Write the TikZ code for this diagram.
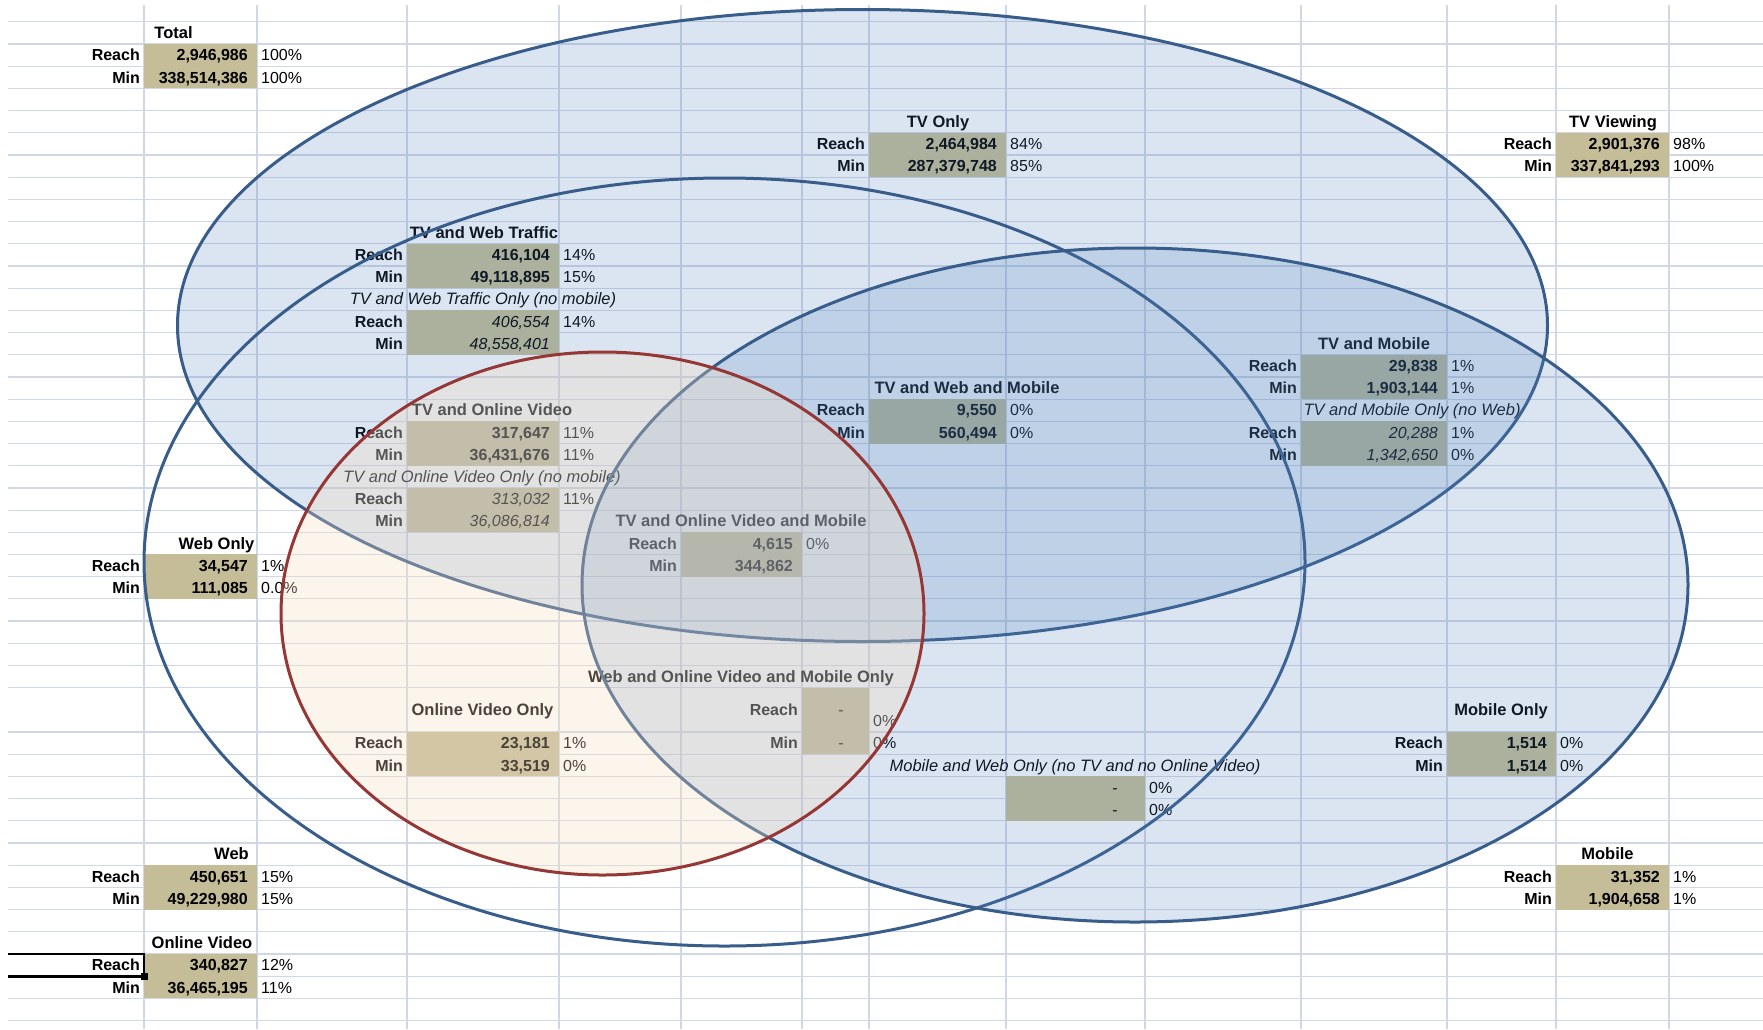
\documentclass[tikz,border=0pt]{standalone}
\usepackage{fontspec}
\setmainfont{Liberation Sans}
\usepackage{tikz}
\definecolor{GridLine}{HTML}{D0D7E5}
\definecolor{CellTan}{HTML}{C4BD97}
\definecolor{ShapeBlue}{HTML}{4F81BD}
\definecolor{ShapeEdge}{HTML}{385D8A}
\definecolor{VideoFill}{HTML}{F8DEC3}
\definecolor{VideoEdge}{HTML}{953735}

% row top / row centre (one unit = one pixel)
\newcommand{\rt}[1]{21.8+22.195*(#1)}
\newcommand{\rc}[1]{32.9+22.195*(#1)}
\newcommand{\bodysize}{\fontsize{16}{19}\selectfont}
\newcommand{\headsize}{\fontsize{16.5}{19}\selectfont}

\tikzset{
  gridline/.style={draw=GridLine, line width=1.2pt},
  cellfill/.style={fill=CellTan},
  txt/.style={inner sep=0pt, text height=11.5pt, text depth=0pt},
  lbl/.style={txt, anchor=east, font=\bodysize\bfseries},
  val/.style={txt, anchor=east, font=\bodysize},
  pct/.style={txt, anchor=west, font=\bodysize},
  ttl/.style={txt, font=\headsize\bfseries},
  note/.style={txt, font=\headsize\itshape},
  venn/.style={line width=3pt},
}

% name, box left, box right, first row, value font, reach, reach %, min, min %
\newcommand{\statblock}[9]{%
  \fill[cellfill] (#2,{\rt{#4}}) rectangle (#3,{\rt{#4+2}});
  \node[lbl] (#1-rl) at ({#2-4},{\rc{#4}}) {Reach};
  \node[lbl] (#1-ml) at ({#2-4},{\rc{#4+1}}) {Min};
  \node[val, font=\bodysize#5] (#1-rv) at ({#3-9},{\rc{#4}}) {#6};
  \node[val, font=\bodysize#5] (#1-mv) at ({#3-9},{\rc{#4+1}}) {#8};
  \node[pct] (#1-rp) at ({#3+4},{\rc{#4}}) {#7};
  \node[pct] (#1-mp) at ({#3+4},{\rc{#4+1}}) {#9};
}

\begin{document}
\begin{tikzpicture}[x=1pt, y=-1pt]
  \useasboundingbox (0,0) rectangle (1763,1029);
  \fill[white] (0,0) rectangle (1763,1029);

  % sheet grid
  \foreach \k in {0,...,30}
    \draw[gridline] (8,{\rt{\k}}) -- (1763,{\rt{\k}});
  \foreach \k in {32,...,45}
    \draw[gridline] (8,{\rt{\k}}) -- (1763,{\rt{\k}});
  \foreach \x in {144,257,407,559,681,802,869,1006,1145,1301,1447,1556,1669}
    \draw[gridline] (\x,5) -- (\x,1029);

  % cell blocks
  \statblock{total}{144}{257}{1}{\bfseries}{2,946,986}{100\%}{338,514,386}{100\%}
  \statblock{tvonly}{869}{1006}{5}{\bfseries}{2,464,984}{84\%}{287,379,748}{85\%}
  \statblock{tvview}{1556}{1669}{5}{\bfseries}{2,901,376}{98\%}{337,841,293}{100\%}
  \statblock{tvweb}{407}{559}{10}{\bfseries}{416,104}{14\%}{49,118,895}{15\%}
  \statblock{tvwebonly}{407}{559}{13}{\itshape}{406,554}{14\%}{48,558,401}{}
  \statblock{tvmob}{1301}{1447}{15}{\bfseries}{29,838}{1\%}{1,903,144}{1\%}
  \statblock{tvmobonly}{1301}{1447}{18}{\itshape}{20,288}{1\%}{1,342,650}{0\%}
  \statblock{tvwebmob}{869}{1006}{17}{\bfseries}{9,550}{0\%}{560,494}{0\%}
  \statblock{tvov}{407}{559}{18}{\bfseries}{317,647}{11\%}{36,431,676}{11\%}
  \statblock{tvovonly}{407}{559}{21}{\itshape}{313,032}{11\%}{36,086,814}{}
  \statblock{tvovmob}{681}{802}{23}{\bfseries}{4,615}{0\%}{344,862}{}
  \statblock{webonly}{144}{257}{24}{\bfseries}{34,547}{1\%}{111,085}{0.0\%}
  \statblock{ovonly}{407}{559}{32}{\bfseries}{23,181}{1\%}{33,519}{0\%}
  \statblock{mobonly}{1447}{1556}{32}{\bfseries}{1,514}{0\%}{1,514}{0\%}
  \statblock{web}{144}{257}{38}{\bfseries}{450,651}{15\%}{49,229,980}{15\%}
  \statblock{mobile}{1556}{1669}{38}{\bfseries}{31,352}{1\%}{1,904,658}{1\%}
  \statblock{ov}{144}{257}{42}{\bfseries}{340,827}{12\%}{36,465,195}{11\%}

  % web, online video and mobile only
  \fill[cellfill] (802,{\rt{30}}) rectangle (869,{\rt{33}});
  \node[lbl] (wovm-rl) at (798,{\rt{31}}) {Reach};
  \node[lbl] (wovm-ml) at (798,{\rc{32}}) {Min};
  \node[val] (wovm-rv) at (844,{\rt{31}}) {-};
  \node[val] (wovm-mv) at (844,{\rc{32}}) {-};
  \node[pct] (wovm-rp) at (873,{\rc{31}}) {0\%};
  \node[pct] (wovm-mp) at (873,{\rc{32}}) {0\%};

  % mobile and web only
  \fill[cellfill] (1006,{\rt{34}}) rectangle (1145,{\rt{36}});
  \node[val] (mweb-rv) at (1118,{\rc{34}}) {-};
  \node[val] (mweb-mv) at (1118,{\rc{35}}) {-};
  \node[pct] (mweb-rp) at (1149,{\rc{34}}) {0\%};
  \node[pct] (mweb-mp) at (1149,{\rc{35}}) {0\%};

  % titles
  \node[ttl] (total-t) at (173.5,{\rc{0}}) {Total};
  \node[ttl] (tvonly-t) at (938,{\rc{4}}) {TV Only};
  \node[ttl] (tvview-t) at (1613,{\rc{4}}) {TV Viewing};
  \node[ttl] (tvweb-t) at (484,{\rc{9}}) {TV and Web Traffic};
  \node[note] (tvwebonly-t) at (483,{\rc{12}}) {TV and Web Traffic Only (no mobile)};
  \node[ttl] (tvmob-t) at (1374,{\rc{14}}) {TV and Mobile};
  \node[note] (tvmobonly-t) at (1412,{\rc{17}}) {TV and Mobile Only (no Web)};
  \node[ttl] (tvwebmob-t) at (967,{\rc{16}}) {TV and Web and Mobile};
  \node[ttl] (tvov-t) at (492,{\rc{17}}) {TV and Online Video};
  \node[note] (tvovonly-t) at (482,{\rc{20}}) {TV and Online Video Only (no mobile)};
  \node[ttl] (tvovmob-t) at (741,{\rc{22}}) {TV and Online Video and Mobile};
  \node[ttl] (webonly-t) at (216.5,{\rc{23}}) {Web Only};
  \node[ttl] (wovm-t) at (741,{\rc{29}}) {Web and Online Video and Mobile Only};
  \node[ttl] (ovonly-t) at (482.5,{\rt{31}}) {Online Video Only};
  \node[ttl] (mobonly-t) at (1501,{\rt{31}}) {Mobile Only};
  \node[note] (mweb-t) at (1075,{\rc{33}}) {Mobile and Web Only (no TV and no Online Video)};
  \node[ttl] (web-t) at (231.5,{\rc{37}}) {Web};
  \node[ttl] (mobile-t) at (1607.5,{\rc{37}}) {Mobile};
  \node[ttl] (ov-t) at (202,{\rc{41}}) {Online Video};

  % selected cell
  \draw[line width=2.7pt] (8,{\rt{42}}) -- (144,{\rt{42}}) -- (144,{\rt{43}}) -- (8,{\rt{43}});
  \fill[black] (140.5,{\rt{43}-3.5}) rectangle (147.5,{\rt{43}+3.5});

  % venn shapes
  \draw[venn, draw=ShapeEdge, fill=ShapeBlue, fill opacity=0.2]
    (862.5,325.5) ellipse [x radius=685pt, y radius=316pt];
  \draw[venn, draw=ShapeEdge] (724.5,562) ellipse [x radius=580.5pt, y radius=384pt];
  \draw[venn, draw=ShapeEdge, fill=ShapeBlue, fill opacity=0.2]
    (1135,585) ellipse [x radius=553pt, y radius=337pt];
  \draw[venn, draw=VideoEdge, fill=VideoFill, fill opacity=0.3]
    (602.5,613.5) ellipse [x radius=321.5pt, y radius=261.5pt];
\end{tikzpicture}
\end{document}
